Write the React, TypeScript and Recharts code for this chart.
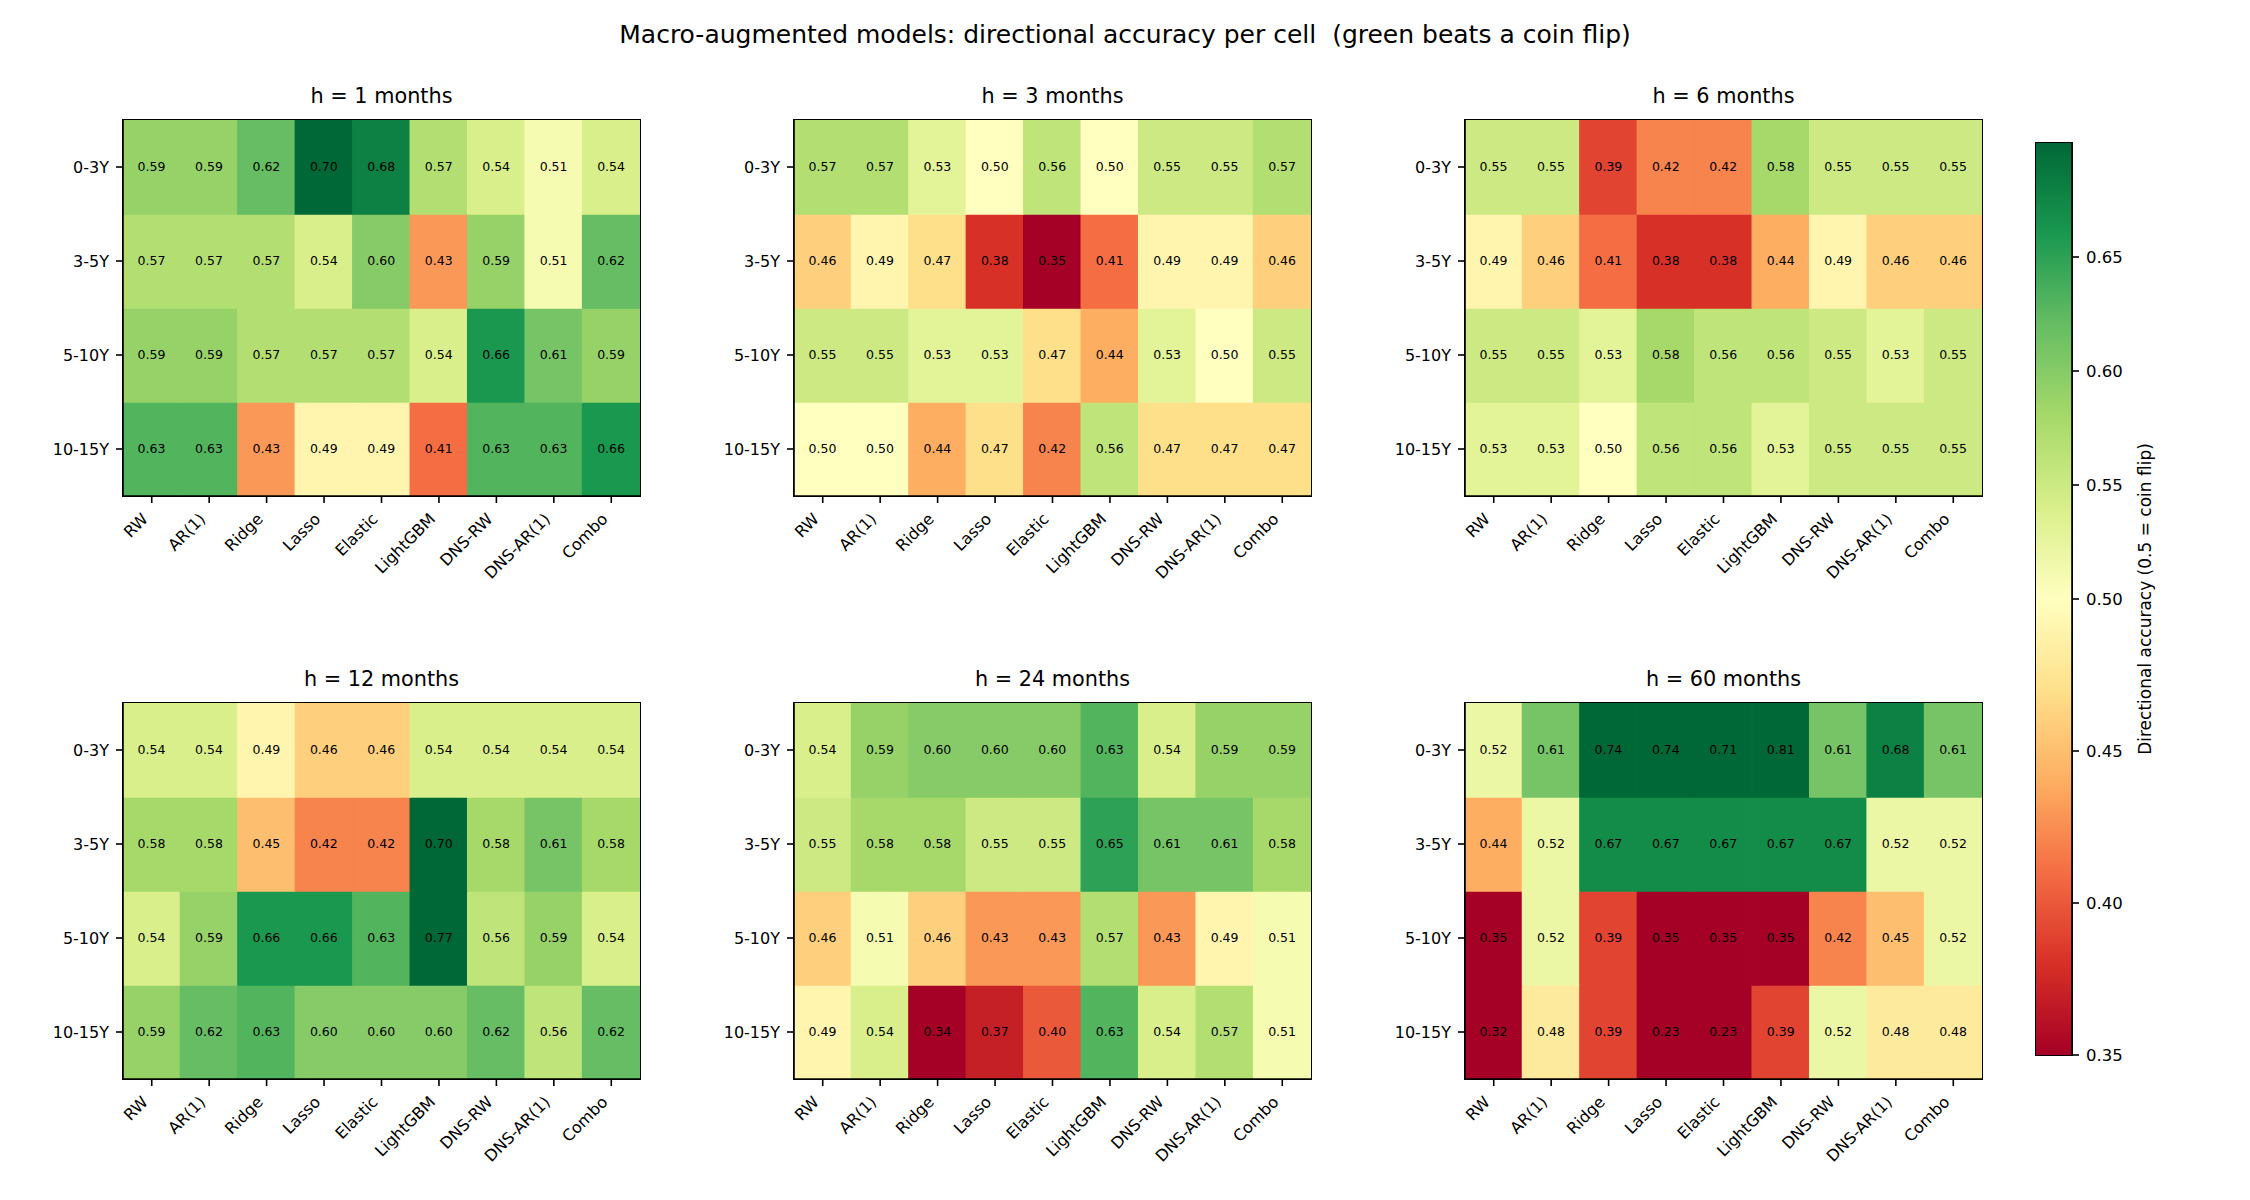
import React from 'react';
import { BarChart, Bar, XAxis, YAxis, Cell, LabelList } from 'recharts';

const models = ['RW', 'AR(1)', 'Ridge', 'Lasso', 'Elastic', 'LightGBM', 'DNS-RW', 'DNS-AR(1)', 'Combo'];
const maturities = ['0-3Y', '3-5Y', '5-10Y', '10-15Y'];
const horizons = [1, 3, 6, 12, 24, 60];

// rows = maturities, columns = models
const accH1 = [
  [0.59, 0.59, 0.62, 0.70, 0.68, 0.57, 0.54, 0.51, 0.54],
  [0.57, 0.57, 0.57, 0.54, 0.60, 0.43, 0.59, 0.51, 0.62],
  [0.59, 0.59, 0.57, 0.57, 0.57, 0.54, 0.66, 0.61, 0.59],
  [0.63, 0.63, 0.43, 0.49, 0.49, 0.41, 0.63, 0.63, 0.66],
];
const accH3 = [
  [0.57, 0.57, 0.53, 0.50, 0.56, 0.50, 0.55, 0.55, 0.57],
  [0.46, 0.49, 0.47, 0.38, 0.35, 0.41, 0.49, 0.49, 0.46],
  [0.55, 0.55, 0.53, 0.53, 0.47, 0.44, 0.53, 0.50, 0.55],
  [0.50, 0.50, 0.44, 0.47, 0.42, 0.56, 0.47, 0.47, 0.47],
];
const accH6 = [
  [0.55, 0.55, 0.39, 0.42, 0.42, 0.58, 0.55, 0.55, 0.55],
  [0.49, 0.46, 0.41, 0.38, 0.38, 0.44, 0.49, 0.46, 0.46],
  [0.55, 0.55, 0.53, 0.58, 0.56, 0.56, 0.55, 0.53, 0.55],
  [0.53, 0.53, 0.50, 0.56, 0.56, 0.53, 0.55, 0.55, 0.55],
];
const accH12 = [
  [0.54, 0.54, 0.49, 0.46, 0.46, 0.54, 0.54, 0.54, 0.54],
  [0.58, 0.58, 0.45, 0.42, 0.42, 0.70, 0.58, 0.61, 0.58],
  [0.54, 0.59, 0.66, 0.66, 0.63, 0.77, 0.56, 0.59, 0.54],
  [0.59, 0.62, 0.63, 0.60, 0.60, 0.60, 0.62, 0.56, 0.62],
];
const accH24 = [
  [0.54, 0.59, 0.60, 0.60, 0.60, 0.63, 0.54, 0.59, 0.59],
  [0.55, 0.58, 0.58, 0.55, 0.55, 0.65, 0.61, 0.61, 0.58],
  [0.46, 0.51, 0.46, 0.43, 0.43, 0.57, 0.43, 0.49, 0.51],
  [0.49, 0.54, 0.34, 0.37, 0.40, 0.63, 0.54, 0.57, 0.51],
];
const accH60 = [
  [0.52, 0.61, 0.74, 0.74, 0.71, 0.81, 0.61, 0.68, 0.61],
  [0.44, 0.52, 0.67, 0.67, 0.67, 0.67, 0.67, 0.52, 0.52],
  [0.35, 0.52, 0.39, 0.35, 0.35, 0.35, 0.42, 0.45, 0.52],
  [0.32, 0.48, 0.39, 0.23, 0.23, 0.39, 0.52, 0.48, 0.48],
];
const grids = [accH1, accH3, accH6, accH12, accH24, accH60];

const cbTicks = [0.35, 0.40, 0.45, 0.50, 0.55, 0.60, 0.65];

const RdYlGn = [
  '#a50026', '#d73027', '#f46d43', '#fdae61', '#fee08b', '#ffffbf',
  '#d9ef8b', '#a6d96a', '#66bd63', '#1a9850', '#006837',
];

const VMIN = 0.35;
const VCENTER = 0.5;
const VMAX = 0.70;

// two-slope norm: 0.5 sits in the middle of the colormap
function norm(v: number) {
  if (v < VCENTER) return Math.max(0, 0.5 * (v - VMIN) / (VCENTER - VMIN));
  return Math.min(1, 0.5 + 0.5 * (v - VCENTER) / (VMAX - VCENTER));
}

function hexRgb(h: string) {
  return [1, 3, 5].map((i) => parseInt(h.slice(i, i + 2), 16));
}

function cmap(t: number) {
  const p = t * (RdYlGn.length - 1);
  const i = Math.min(RdYlGn.length - 2, Math.floor(p));
  const f = p - i;
  const a = hexRgb(RdYlGn[i]);
  const b = hexRgb(RdYlGn[i + 1]);
  const c = a.map((x, k) => Math.round(x + (b[k] - x) * f));
  return `rgb(${c[0]},${c[1]},${c[2]})`;
}

const FONT = '"DejaVu Sans", sans-serif';
const SPINE = { stroke: '#000', strokeWidth: 1.6 };

// axes rectangles in page pixels
const AX_W = 517;
const AX_H = 376;
const colLefts = [123, 794, 1465];
const rowTops = [120, 703];

const YW = 110;
const XH = 110;
const PAD = 10;

const XTick = (props: any) => {
  const { x, y, payload } = props;
  return (
    <g transform={`translate(${x - 2.7},${y + 15}) rotate(-45)`}>
      <text x={0} y={0} textAnchor="end" fontSize={16} fill="#000" fontFamily={FONT}>
        {payload.value}
      </text>
    </g>
  );
};

// black outline drawn over the plot area, like matplotlib's spines
function Frame({ left, top, width, height }: { left: number; top: number; width: number; height: number }) {
  return (
    <div
      style={{
        position: 'absolute',
        boxSizing: 'border-box',
        left: left - 0.8,
        top: top - 0.8,
        width: width + 1.6,
        height: height + 1.6,
        border: '1.6px solid #000',
        pointerEvents: 'none',
      }}
    />
  );
}

function Panel({ grid, left, top }: { grid: number[][]; left: number; top: number }) {
  const rows = models.map((m, j) => {
    const r: any = { model: m };
    maturities.forEach((_, i) => {
      r['v' + i] = grid[i][j];
      r['s' + i] = 1;
    });
    return r;
  });
  const order = [3, 2, 1, 0]; // bottom row first in the stack
  return (
    <div style={{ position: 'absolute', left: left - YW, top: top - PAD }}>
      <BarChart
        width={YW + AX_W + PAD}
        height={PAD + AX_H + XH}
        data={rows}
        margin={{ top: PAD, right: PAD, bottom: 0, left: 0 }}
        barCategoryGap={0}
        barGap={0}
      >
        {order.map((i) => (
          <Bar
            key={i}
            dataKey={'s' + i}
            stackId="a"
            isAnimationActive={false}
          >
            {rows.map((r, j) => {
              const c = cmap(norm(r['v' + i]));
              return <Cell key={j} fill={c} stroke={c} strokeWidth={1.4} />;
            })}
            <LabelList
              dataKey={'v' + i}
              position="center"
              formatter={(v: any) => Number(v).toFixed(2)}
              fill="#000"
              stroke="none"
              fontSize={12.5}
              fontFamily={FONT}
            />
          </Bar>
        ))}
        <XAxis
          dataKey="model"
          height={XH}
          interval={0}
          tickSize={7}
          tickLine={SPINE}
          axisLine={SPINE}
          tick={<XTick />}
        />
        <YAxis
          type="number"
          domain={[0, 4]}
          ticks={[0.5, 1.5, 2.5, 3.5]}
          tickFormatter={(v: number) => maturities[3 - Math.floor(v)]}
          width={YW}
          tickSize={7}
          tickMargin={7}
          tickLine={SPINE}
          axisLine={SPINE}
          tick={{ fill: '#000', fontSize: 16, fontFamily: FONT }}
        />
      </BarChart>
    </div>
  );
}

const cbData = [{ name: 'cb', span: 1 }];
const CB_LEFT = 2036;
const CB_TOP = 143;
const CB_W = 36;
const CB_H = 912;

function Colorbar() {
  const tickPos = cbTicks.map(norm);
  return (
    <div style={{ position: 'absolute', left: CB_LEFT - PAD, top: CB_TOP - PAD }}>
      <BarChart
        width={PAD + CB_W + 150}
        height={PAD + CB_H + PAD}
        data={cbData}
        margin={{ top: PAD, right: 0, bottom: PAD, left: PAD }}
        barCategoryGap={0}
      >
        <defs>
          <linearGradient id="rdylgn" x1="0" y1="1" x2="0" y2="0">
            {RdYlGn.map((c, i) => (
              <stop key={i} offset={`${(i / (RdYlGn.length - 1)) * 100}%`} stopColor={c} />
            ))}
          </linearGradient>
        </defs>
        <Bar dataKey="span" fill="url(#rdylgn)" isAnimationActive={false} />
        <XAxis dataKey="name" height={0} tick={false} tickLine={false} axisLine={false} />
        <YAxis
          orientation="right"
          type="number"
          domain={[0, 1]}
          ticks={tickPos}
          tickFormatter={(t: number) => cbTicks[tickPos.findIndex((p) => Math.abs(p - t) < 1e-9)].toFixed(2)}
          width={150}
          tickSize={7}
          tickMargin={7}
          tickLine={SPINE}
          axisLine={SPINE}
          tick={{ fill: '#000', fontSize: 16.5, fontFamily: FONT, textAnchor: 'start' }}
          label={{
            content: (p: any) => {
              const vb = p.viewBox || {};
              const cx = vb.x + 73;
              const cy = vb.y + vb.height / 2;
              return (
                <text
                  x={cx}
                  y={cy}
                  transform={`rotate(-90, ${cx}, ${cy})`}
                  textAnchor="middle"
                  dominantBaseline="central"
                  fontSize={17}
                  fill="#000"
                  fontFamily={FONT}
                >
                  Directional accuracy (0.5 = coin flip)
                </text>
              );
            },
          }}
        />
      </BarChart>
    </div>
  );
}

export default function App() {
  return (
    <div
      style={{
        position: 'absolute',
        left: 0,
        top: 0,
        width: 2250,
        height: 1200,
        background: '#fff',
        fontFamily: FONT,
        color: '#000',
        overflow: 'hidden',
      }}
    >
      <div style={{ position: 'absolute', left: 0, top: 22, width: 2250, textAlign: 'center', fontSize: 25, lineHeight: 1 }}>
        Macro-augmented models: directional accuracy per cell&nbsp; (green beats a coin flip)
      </div>
      {horizons.map((h, k) => {
        const left = colLefts[k % 3];
        const top = rowTops[Math.floor(k / 3)];
        return (
          <React.Fragment key={h}>
            <div
              style={{
                position: 'absolute',
                left,
                top: top - 34.3,
                width: AX_W,
                textAlign: 'center',
                fontSize: 20.8,
                lineHeight: 1,
              }}
            >
              h = {h} months
            </div>
            <Panel grid={grids[k]} left={left} top={top} />
            <Frame left={left} top={top} width={AX_W} height={AX_H} />
          </React.Fragment>
        );
      })}
      <Colorbar />
      <Frame left={CB_LEFT} top={CB_TOP} width={CB_W} height={CB_H} />
    </div>
  );
}
